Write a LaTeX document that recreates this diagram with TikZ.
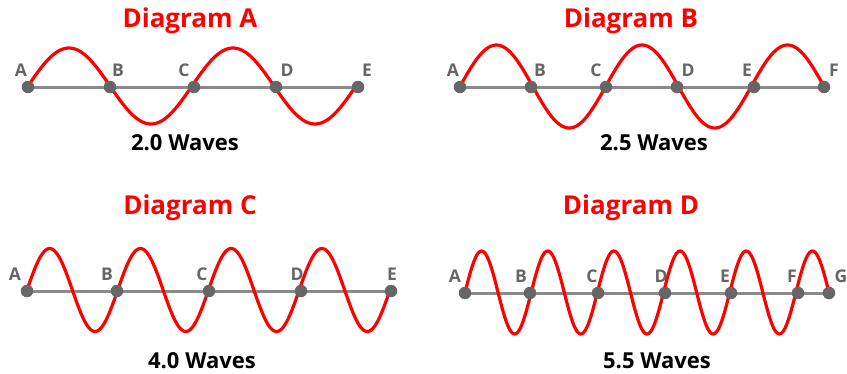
\documentclass[tikz,border=0pt]{standalone}
\usepackage{fontspec}
\setmainfont{Open Sans}
\definecolor{dotgray}{HTML}{666666}
\definecolor{linegray}{HTML}{8A8A8A}
\definecolor{wavered}{HTML}{FF0000}
\tikzset{
  dot/.style={circle, fill=dotgray, inner sep=0pt, minimum size=12.5pt},
  lbl/.style={anchor=base, text=dotgray, font=\bfseries\fontsize{17.5}{17.5}\selectfont, inner sep=0pt},
  ttl/.style={anchor=base, text=wavered, font=\bfseries\fontsize{26}{26}\selectfont, inner sep=0pt},
  captxt/.style={anchor=base, text=black, font=\bfseries\fontsize{22}{22}\selectfont, inner sep=0pt},
  axisline/.style={draw=linegray, line width=3pt},
  wave/.style={draw=wavered, line width=3.2pt, line cap=round},
}
\begin{document}
\begin{tikzpicture}[x=1pt, y=-1pt]
\useasboundingbox (0,0) rectangle (847,373);

% ---------- Diagram A ----------
\node[ttl] (tA) at (190,27.5) {Diagram A};
\node[captxt] (cA) at (185,150.5) {2.0 Waves};
\node[lbl] (lAA) at (21,76) {A};
\node[lbl] (lAB) at (118,76) {B};
\node[lbl] (lAC) at (184,76) {C};
\node[lbl] (lAD) at (287,76) {D};
\node[lbl] (lAE) at (367,76) {E};
\coordinate (pAA) at (28,87);
\coordinate (pAB) at (110,87);
\coordinate (pAC) at (194,87);
\coordinate (pAD) at (276,87);
\coordinate (pAE) at (358,87);
\draw[axisline] (pAA) -- (pAE);
\draw[wave] plot[domain=0:720, samples=150, smooth] ({28+\x/720*328},{86-38*sin(\x)});
\foreach \n in {A,B,C,D,E} \node[dot] (dA\n) at (pA\n) {};

% ---------- Diagram B ----------
\node[ttl] (tB) at (631,27.5) {Diagram B};
\node[captxt] (cB) at (654,150) {2.5 Waves};
\node[lbl] (lBA) at (453,76) {A};
\node[lbl] (lBB) at (540,76) {B};
\node[lbl] (lBC) at (596,76) {C};
\node[lbl] (lBD) at (688,76) {D};
\node[lbl] (lBE) at (747,76) {E};
\node[lbl] (lBF) at (834,76) {F};
\coordinate (pBA) at (460,87);
\coordinate (pBB) at (531,87);
\coordinate (pBC) at (606,87);
\coordinate (pBD) at (677,87);
\coordinate (pBE) at (754,87);
\coordinate (pBF) at (824,87);
\draw[axisline] (pBA) -- (pBF);
\draw[wave] plot[domain=0:900, samples=180, smooth] ({460+\x/900*364},{86.5-41.5*sin(\x)});
\foreach \n in {A,B,C,D,E,F} \node[dot] (dB\n) at (pB\n) {};

% ---------- Diagram C ----------
\node[ttl] (tC) at (190,214) {Diagram C};
\node[captxt] (cC) at (202,368.5) {4.0 Waves};
\node[lbl] (lCA) at (15,280.5) {A};
\node[lbl] (lCB) at (107,280.5) {B};
\node[lbl] (lCC) at (202,280.5) {C};
\node[lbl] (lCD) at (297,280.5) {D};
\node[lbl] (lCE) at (392,280.5) {E};
\coordinate (pCA) at (27,291);
\coordinate (pCB) at (117,291);
\coordinate (pCC) at (209,291);
\coordinate (pCD) at (301,291);
\coordinate (pCE) at (391,291);
\draw[axisline] (pCA) -- (pCE);
\draw[wave] plot[domain=0:1440, samples=240, smooth] ({27+\x/1440*363},{290-41.5*sin(\x)});
\foreach \n in {A,B,C,D,E} \node[dot] (dC\n) at (pC\n) {};

% ---------- Diagram D ----------
\node[ttl] (tD) at (631,214) {Diagram D};
\node[captxt] (cD) at (657,368.5) {5.5 Waves};
\node[lbl] (lDA) at (455,282.5) {A};
\node[lbl] (lDB) at (521,282.5) {B};
\node[lbl] (lDC) at (592,282.5) {C};
\node[lbl] (lDD) at (661,282.5) {D};
\node[lbl] (lDE) at (725,282.5) {E};
\node[lbl] (lDF) at (792,282.5) {F};
\node[lbl] (lDG) at (841,282.5) {G};
\coordinate (pDA) at (465,293);
\coordinate (pDB) at (530,293);
\coordinate (pDC) at (598,293);
\coordinate (pDD) at (665,293);
\coordinate (pDE) at (731,293);
\coordinate (pDF) at (798,293);
\coordinate (pDG) at (829,293);
\draw[axisline] (pDA) -- (pDG);
\draw[wave] plot[domain=0:1980, samples=300, smooth] ({465+\x/1980*364},{292.5-41.5*sin(\x)});
\foreach \n in {A,B,C,D,E,F,G} \node[dot] (dD\n) at (pD\n) {};
\end{tikzpicture}
\end{document}
